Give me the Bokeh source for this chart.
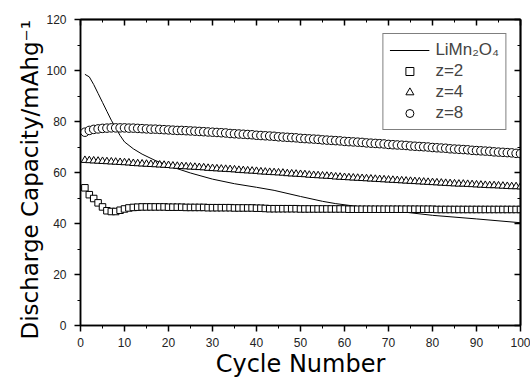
from bokeh.plotting import figure
from bokeh.models import Range1d, LinearAxis, SingleIntervalTicker, FixedTicker, Legend, LegendItem
from bokeh.embed import file_html
from bokeh.resources import INLINE

cycles = list(range(1, 101))

z2_cap = [54.0, 51.3, 49.8, 48.1, 46.5, 45.0, 44.7, 44.7, 45.2, 45.7,
          46.1, 46.3, 46.4, 46.5, 46.5, 46.5, 46.5, 46.5, 46.5, 46.4,
          46.4, 46.4, 46.4, 46.3, 46.3, 46.3, 46.3, 46.3, 46.2, 46.2,
          46.2, 46.2, 46.2, 46.2, 46.1, 46.1, 46.1, 46.1, 46.1, 46.0,
          46.0, 45.9, 45.8, 45.8, 45.8, 45.8, 45.8, 45.8, 45.8, 45.7,
          45.7, 45.7, 45.7, 45.7, 45.7, 45.7, 45.7, 45.7, 45.7, 45.7,
          45.6, 45.6, 45.6, 45.6, 45.6, 45.6, 45.6, 45.6, 45.6, 45.6,
          45.6, 45.6, 45.6, 45.6, 45.6, 45.6, 45.6, 45.6, 45.6, 45.6,
          45.5, 45.5, 45.5, 45.5, 45.5, 45.5, 45.5, 45.5, 45.5, 45.5,
          45.5, 45.5, 45.5, 45.5, 45.5, 45.5, 45.5, 45.5, 45.5, 45.5]

z4_cap = [64.8, 64.7, 64.6, 64.5, 64.4, 64.3, 64.2, 64.1, 64.0, 63.9,
          63.8, 63.6, 63.5, 63.4, 63.3, 63.2, 63.1, 63.0, 62.9, 62.8,
          62.6, 62.5, 62.4, 62.3, 62.2, 62.1, 62.0, 61.9, 61.7, 61.6,
          61.5, 61.4, 61.3, 61.2, 61.1, 60.9, 60.8, 60.7, 60.6, 60.5,
          60.3, 60.2, 60.1, 60.0, 59.9, 59.8, 59.6, 59.5, 59.4, 59.3,
          59.2, 59.0, 58.9, 58.8, 58.7, 58.6, 58.5, 58.3, 58.2, 58.1,
          58.0, 57.9, 57.8, 57.7, 57.6, 57.5, 57.4, 57.3, 57.2, 57.1,
          57.0, 56.9, 56.8, 56.7, 56.6, 56.5, 56.4, 56.3, 56.2, 56.1,
          56.0, 55.9, 55.8, 55.7, 55.6, 55.5, 55.5, 55.4, 55.3, 55.2,
          55.1, 55.0, 54.9, 54.9, 54.8, 54.7, 54.6, 54.5, 54.5, 54.4]

z8_cap = [75.8, 76.5, 76.9, 77.1, 77.3, 77.4, 77.5, 77.5, 77.5, 77.5,
          77.4, 77.4, 77.3, 77.2, 77.1, 77.0, 77.0, 76.9, 76.8, 76.7,
          76.6, 76.5, 76.5, 76.4, 76.3, 76.2, 76.1, 76.0, 75.9, 75.8,
          75.7, 75.6, 75.5, 75.3, 75.2, 75.1, 75.0, 74.9, 74.8, 74.6,
          74.5, 74.4, 74.3, 74.2, 74.0, 73.9, 73.8, 73.7, 73.6, 73.4,
          73.3, 73.2, 73.1, 73.0, 72.8, 72.7, 72.6, 72.5, 72.4, 72.2,
          72.1, 72.0, 71.9, 71.8, 71.6, 71.5, 71.4, 71.3, 71.2, 71.0,
          70.9, 70.8, 70.7, 70.6, 70.4, 70.3, 70.2, 70.1, 70.0, 69.8,
          69.7, 69.6, 69.5, 69.3, 69.2, 69.1, 69.0, 68.9, 68.7, 68.6,
          68.5, 68.4, 68.3, 68.1, 68.0, 67.9, 67.8, 67.7, 67.5, 67.4]

limn_cycle = [1, 2, 3, 4, 5, 6, 7, 8, 9, 10, 12, 14, 17, 20, 22, 25, 30, 35,
              40, 44, 50, 55, 58, 65, 73, 80, 90, 100]
limn_cap = [98.5, 97.5, 94.5, 91.0, 87.5, 84.0, 80.5, 77.5, 74.5, 72.0, 69.3,
            67.2, 64.7, 62.7, 61.5, 59.8, 57.4, 55.6, 54.2, 53.0, 50.6, 48.7,
            47.8, 46.2, 44.6, 43.2, 41.8, 40.3]

x_major = [0, 10, 20, 30, 40, 50, 60, 70, 80, 90, 100]
x_minor = [5, 15, 25, 35, 45, 55, 65, 75, 85, 95]
y_major = [0, 20, 40, 60, 80, 100, 120]
y_minor = [10, 30, 50, 70, 90, 110]

FONT = "Liberation Sans"
LABEL_FONT = "DejaVu Sans"

p = figure(width=530, height=380, output_backend="svg", toolbar_location=None,
           x_range=Range1d(0, 100), y_range=Range1d(0, 120),
           min_border_left=80, min_border_right=10, min_border_top=19, min_border_bottom=52,
           x_axis_label="Cycle Number",
           y_axis_label="Discharge Capacity/mAhg\u207b\u00b9\u00a0\u00a0")
p.xgrid.visible = False
p.ygrid.visible = False
p.outline_line_color = "black"
p.outline_line_width = 1.5
p.background_fill_color = "white"
p.border_fill_color = "white"

for ax, interval in ((p.xaxis[0], 10), (p.yaxis[0], 20)):
    ax.ticker = SingleIntervalTicker(interval=interval, num_minor_ticks=2)
    ax.axis_line_width = 1.5
    ax.major_tick_line_width = 1.5
    ax.minor_tick_line_width = 1
    ax.major_tick_out = 6
    ax.major_tick_in = 0
    ax.minor_tick_out = 3
    ax.minor_tick_in = 0
    ax.major_label_text_font = FONT
    ax.major_label_text_font_size = "12px"
    ax.major_label_text_color = "#222222"
    ax.axis_label_text_font = LABEL_FONT
    ax.axis_label_text_font_size = "24px"
    ax.axis_label_text_font_style = "normal"
    ax.axis_label_text_color = "black"

p.yaxis[0].axis_label_text_font_size = "23px"
p.xaxis[0].major_label_standoff = 6
p.xaxis[0].axis_label_standoff = 0
p.yaxis[0].major_label_standoff = 8
p.yaxis[0].axis_label_standoff = 0

# Frame ticks on top and right (inward, no labels): majors and minors as
# separate tick-only axes.
for ticks, length in ((x_major, 6), (x_minor, 3)):
    ax = LinearAxis(ticker=FixedTicker(ticks=[], minor_ticks=ticks))
    ax.axis_line_width = 1.5
    ax.minor_tick_in = length
    ax.minor_tick_out = 0
    ax.minor_tick_line_width = 1.5 if length == 6 else 1
    ax.major_tick_in = 0
    ax.major_tick_out = 0
    ax.major_label_standoff = 0
    p.add_layout(ax, "above")
for ticks, length in ((y_major, 6), (y_minor, 3)):
    ax = LinearAxis(ticker=FixedTicker(ticks=[], minor_ticks=ticks))
    ax.axis_line_width = 1.5
    ax.minor_tick_in = length
    ax.minor_tick_out = 0
    ax.minor_tick_line_width = 1.5 if length == 6 else 1
    ax.major_tick_in = 0
    ax.major_tick_out = 0
    ax.major_label_standoff = 0
    p.add_layout(ax, "right")

line_r = p.line(limn_cycle, limn_cap, line_color="black", line_width=1)
sq = p.scatter(cycles, z2_cap, marker="square", size=6.5, line_color="black",
               fill_color="white", line_width=1)
tri = p.scatter(cycles, z4_cap, marker="triangle", size=7.5, line_color="black",
                fill_color="white", line_width=1)
circ = p.scatter(cycles, z8_cap, marker="circle", size=8.5, line_color="black",
                 fill_color="white", line_width=1)

legend = Legend(items=[
    LegendItem(label="LiMn\u2082O\u2084", renderers=[line_r]),
    LegendItem(label="z=2", renderers=[sq]),
    LegendItem(label="z=4", renderers=[tri]),
    LegendItem(label="z=8", renderers=[circ]),
], location="top_right")
legend.margin = 14
legend.padding = 6
legend.spacing = 1
legend.glyph_width = 40
legend.glyph_height = 20
legend.label_height = 20
legend.label_standoff = 6
legend.label_text_font = FONT
legend.label_text_font_size = "17px"
legend.border_line_color = "black"
legend.border_line_width = 1
legend.background_fill_alpha = 1
p.add_layout(legend)

open("out.html", "w").write(file_html(p, INLINE))
